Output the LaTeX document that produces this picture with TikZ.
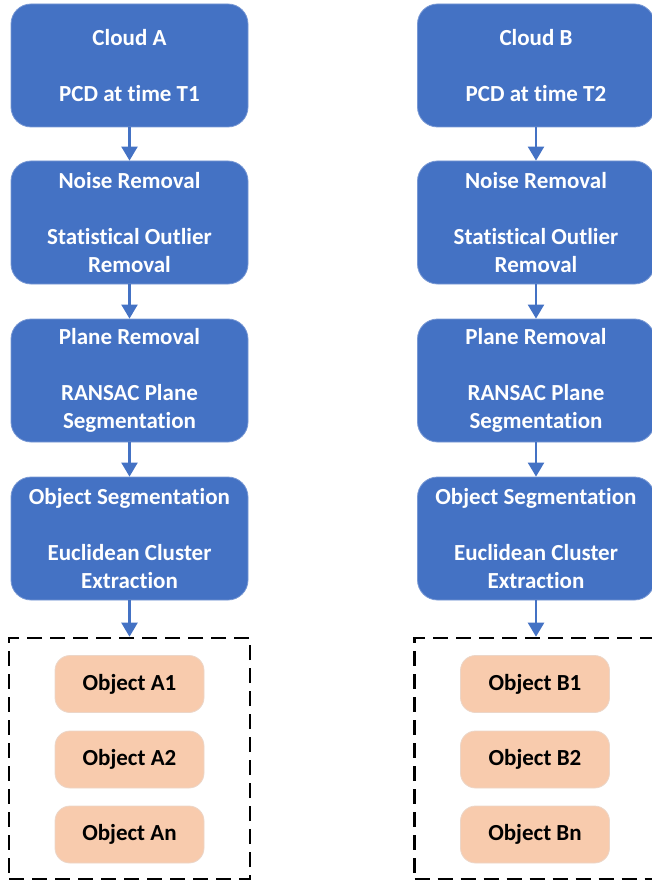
\documentclass[tikz,border=0pt]{standalone}
\usepackage{fontspec}
\setmainfont{Carlito}[RawFeature=-liga]
\usetikzlibrary{arrows.meta}
\definecolor{stageblue}{RGB}{68,114,196}
\definecolor{stageedge}{RGB}{120,152,212}
\definecolor{objfill}{RGB}{248,203,173}
\definecolor{objedge}{RGB}{236,214,200}
\tikzset{
  stagebox/.style={rectangle, rounded corners=20pt, fill=stageblue, draw=stageedge,
    line width=0.8pt, minimum width=237pt, minimum height=123pt, inner sep=0pt,
    text=white, align=center, font=\fontsize{23}{28}\selectfont\bfseries},
  objbox/.style={rectangle, rounded corners=15pt, fill=objfill, draw=objedge,
    line width=0.8pt, minimum width=149pt, minimum height=57pt, inner sep=0pt,
    text=black, align=center, font=\fontsize{23}{28}\selectfont\bfseries},
  groupbox/.style={rectangle, draw=black, line width=2.6pt, dash pattern=on 15pt off 8pt,
    minimum width=241pt, minimum height=241pt, inner sep=0pt},
  flow/.style={draw=stageblue, line width=2.3pt, -{Triangle[length=14pt,width=16pt]}}
}
\begin{document}
\begin{tikzpicture}[x=1pt,y=-1pt]
\useasboundingbox (0,0) rectangle (652,882);
\clip (0,0) rectangle (652,882);

% left pipeline: cloud A
\node[stagebox] (a1) at (129.5,65.5) {Cloud A\\[28pt]PCD at time T1};
\node[stagebox] (a2) at (129.5,222.5) {Noise Removal\\[28pt]Statistical Outlier\\Removal};
\node[stagebox] (a3) at (129.5,380.5) {Plane Removal\\[28pt]RANSAC Plane\\Segmentation};
\node[stagebox] (a4) at (129.5,538.5) {Object Segmentation\\[28pt]Euclidean Cluster\\Extraction};
\node[groupbox] (ga) at (129.5,758.5) {};
\node[objbox] (oa1) at (129.5,684) {Object A1};
\node[objbox] (oa2) at (129.5,759.5) {Object A2};
\node[objbox] (oa3) at (129.5,834.5) {Object An};

% right pipeline: cloud B
\node[stagebox] (b1) at (536,65.5) {Cloud B\\[28pt]PCD at time T2};
\node[stagebox] (b2) at (536,222.5) {Noise Removal\\[28pt]Statistical Outlier\\Removal};
\node[stagebox] (b3) at (536,380.5) {Plane Removal\\[28pt]RANSAC Plane\\Segmentation};
\node[stagebox] (b4) at (536,538.5) {Object Segmentation\\[28pt]Euclidean Cluster\\Extraction};
\node[groupbox] (gb) at (535,758.5) {};
\node[objbox] (ob1) at (535,684) {Object B1};
\node[objbox] (ob2) at (535,759.5) {Object B2};
\node[objbox] (ob3) at (535,834.5) {Object Bn};

% connectors
\foreach \s/\t in {a1/a2,a2/a3,a3/a4,b1/b2,b2/b3,b3/b4}
  \draw[flow] (\s.south) -- (\t.north);
\draw[flow] (a4.south) -- (a4.south |- ga.north);
\draw[flow] (b4.south) -- (b4.south |- gb.north);
\end{tikzpicture}
\end{document}
